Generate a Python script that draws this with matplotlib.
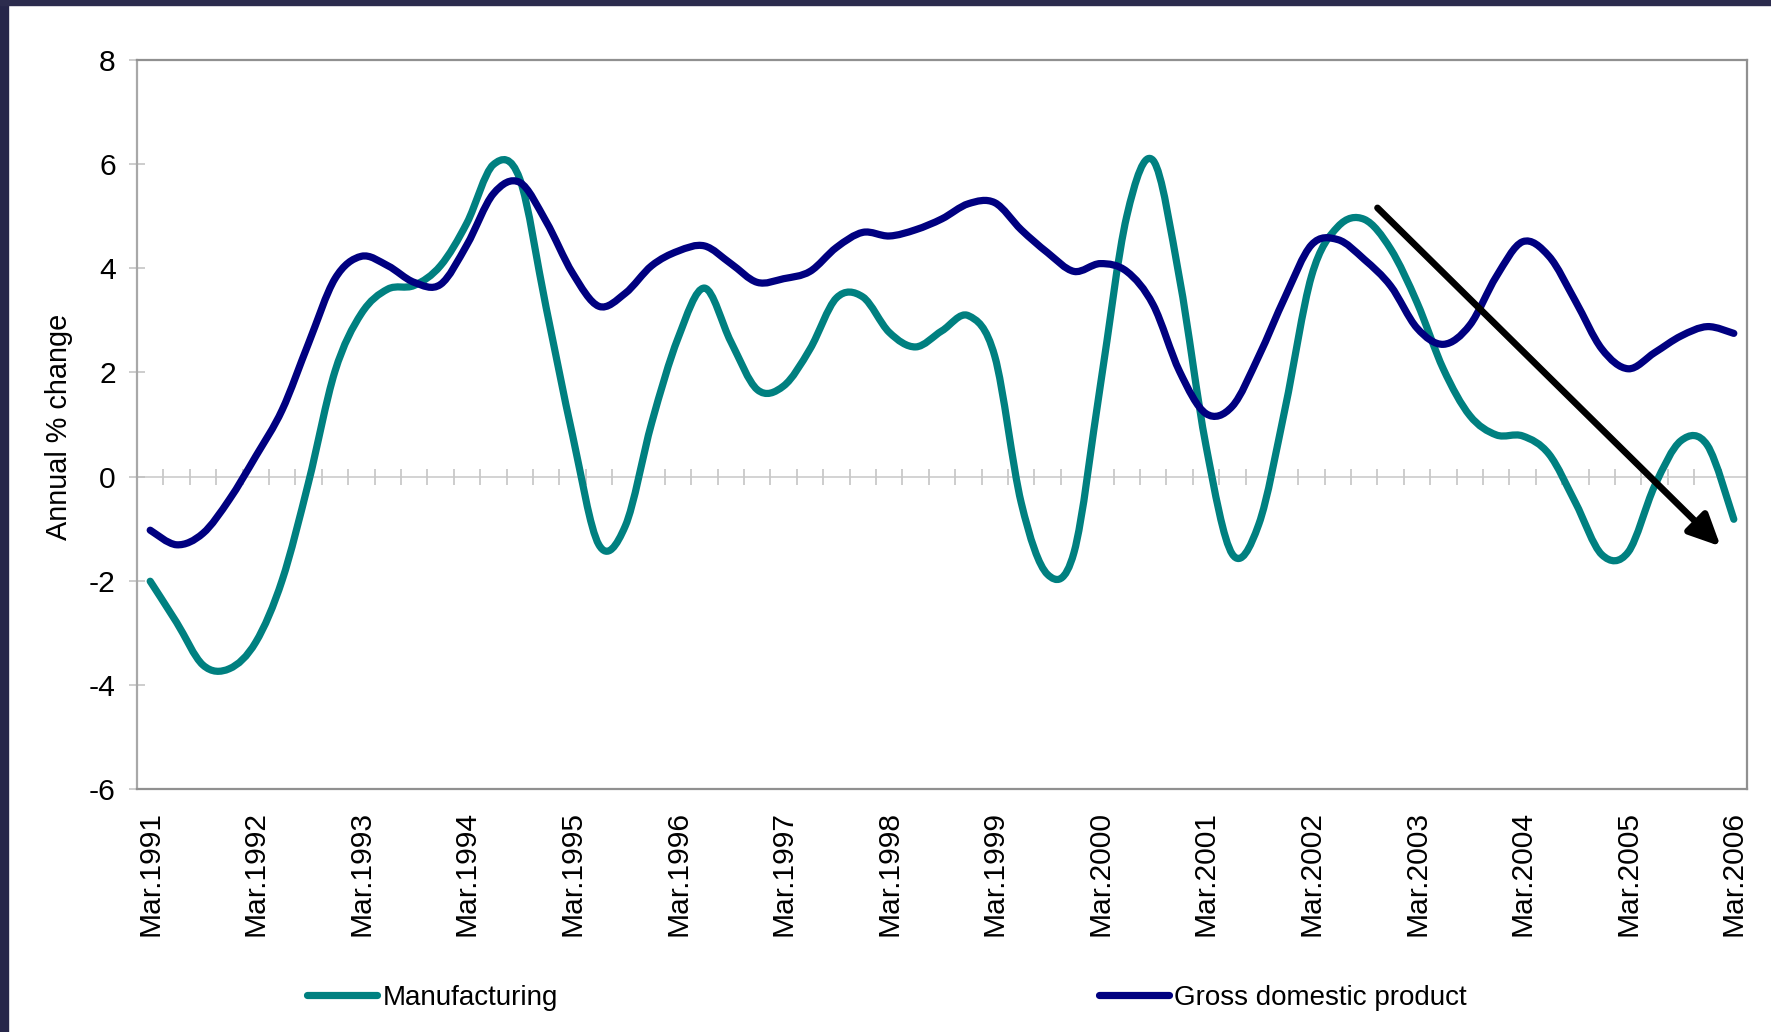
import matplotlib
matplotlib.use("Agg")
import matplotlib.pyplot as plt
import numpy as np
from matplotlib.path import Path
from matplotlib.patches import PathPatch, Rectangle
from matplotlib.lines import Line2D

plt.rcParams["font.family"] = ["Liberation Sans", "DejaVu Sans"]
plt.rcParams["axes.unicode_minus"] = False

# quarterly annual % change, Mar.1991 .. Mar.2006 (61 quarters)
years = list(range(1991, 2007))
year_labels = ["Mar." + str(y) for y in years]

manufacturing = [
    -2.01, -2.80, -3.62, -3.69, -3.18, -1.99, -0.11, 2.02, 3.13, 3.60,
    3.67, 4.05, 4.87, 5.99, 5.72, 3.25, 0.80, -1.31, -0.95, 1.03,
    2.66, 3.62, 2.59, 1.67, 1.74, 2.45, 3.43, 3.45, 2.77, 2.49,
    2.80, 3.09, 2.31, -0.50, -1.88, -1.46, 1.75, 5.00, 6.07, 3.80,
    0.60, -1.49, -0.92, 1.31, 3.85, 4.80, 4.94, 4.37, 3.34, 2.06,
    1.17, 0.80, 0.78, 0.43, -0.50, -1.50, -1.45, -0.18, 0.69, 0.60,
    -0.82,
]
gdp = [
    -1.03, -1.31, -1.09, -0.44, 0.39, 1.28, 2.56, 3.80, 4.23, 4.05,
    3.73, 3.69, 4.45, 5.43, 5.65, 4.90, 3.91, 3.27, 3.52, 4.05,
    4.33, 4.43, 4.09, 3.73, 3.80, 3.94, 4.40, 4.69, 4.62, 4.74,
    4.95, 5.24, 5.26, 4.74, 4.30, 3.94, 4.09, 3.94, 3.30, 2.02,
    1.21, 1.35, 2.31, 3.45, 4.45, 4.55, 4.17, 3.66, 2.85, 2.54,
    2.91, 3.84, 4.51, 4.23, 3.37, 2.45, 2.07, 2.38, 2.70, 2.88,
    2.75,
]

# trend arrow (category index, value)
arrow_start = (46.5, 5.16)
arrow_end = (59.5, -1.34)

teal = "#008080"
navy = "#000080"


def smooth_path(values):
    # Excel-style smoothed line: cubic bezier through each point
    pts = np.column_stack([np.arange(len(values)), values]).astype(float)
    n = len(pts)
    verts = [pts[0]]
    codes = [Path.MOVETO]
    for i in range(n - 1):
        p0 = pts[max(i - 1, 0)]
        p1 = pts[i]
        p2 = pts[i + 1]
        p3 = pts[min(i + 2, n - 1)]
        verts += [p1 + (p2 - p0) / 6, p2 - (p3 - p1) / 6, p2]
        codes += [Path.CURVE4] * 3
    return Path(verts, codes)


fig = plt.figure(figsize=(17.71, 10.32), dpi=100)
fig.patch.set_facecolor("white")

# slide background strips
fig.patches.append(Rectangle((0, 0), 8 / 1771, 1, transform=fig.transFigure,
                             color="#26264a", zorder=0))
fig.patches.append(Rectangle((0, 1 - 5 / 1032), 1, 5 / 1032, transform=fig.transFigure,
                             color="#2c2c4e", zorder=0))

ax = fig.add_axes([137 / 1771, 243 / 1032, 1610 / 1771, 729 / 1032])

lw = 5.2
for vals, col in [(manufacturing, teal), (gdp, navy)]:
    ax.add_patch(PathPatch(smooth_path(vals), fill=False, edgecolor=col, lw=lw,
                           capstyle="round", joinstyle="round", zorder=3))

ax.annotate("", xy=arrow_end, xytext=arrow_start,
            arrowprops=dict(arrowstyle="-|>,head_length=0.95,head_width=0.45",
                            mutation_scale=20, lw=4.8, color="black",
                            shrinkA=0, shrinkB=0), zorder=4)

ax.set_xlim(-0.5, len(gdp) - 0.5)
ax.set_ylim(-6, 8)

ax.set_xticks(np.arange(0, len(gdp), 4))
ax.set_xticklabels(year_labels, rotation=90, va="top", ha="center")
ax.tick_params(axis="x", length=0, pad=16, labelsize=21.6)

ax.set_yticks(np.arange(-6, 9, 2))
ax.tick_params(axis="y", direction="inout", length=11.5, width=1.1,
               color="#c0c0c0", pad=9.5, labelsize=21.6)

for side in ["left", "right", "top", "bottom"]:
    ax.spines[side].set_color("#909090")
    ax.spines[side].set_linewidth(1.6)
ax.spines["left"].set_color("#a8a8a8")

# category axis crossing at zero, ticks between quarters
zero_axis = ax.secondary_xaxis(6 / 14)
zero_axis.set_xticks(np.arange(0.5, len(gdp) - 1, 1))
zero_axis.set_xticklabels([])
zero_axis.tick_params(direction="inout", length=11, width=1.1, color="#c0c0c0")
for s in zero_axis.spines.values():
    s.set_color("#c8c8c8")
    s.set_linewidth(1.1)

fig.text(59 / 1771, 0.586, "Annual % change", rotation=90, ha="center",
         va="center", fontsize=20.8)

handles = [
    Line2D([], [], color=teal, lw=lw, solid_capstyle="round"),
    Line2D([], [], color=navy, lw=lw, solid_capstyle="round"),
]
fig.legend(handles, ["Manufacturing", "Gross domestic product"], loc="center",
           bbox_to_anchor=(0.501, 0.033), ncol=2, frameon=False, fontsize=20,
           handlelength=2.5, handletextpad=0.2, columnspacing=19.5)

fig.savefig("out.png", dpi=100)
